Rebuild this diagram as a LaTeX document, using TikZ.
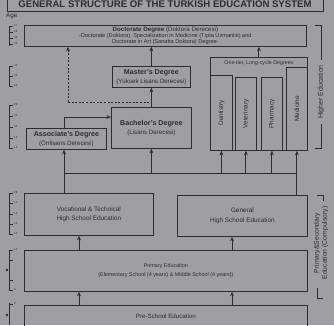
\documentclass[tikz,border=0pt]{standalone}
\usepackage{fontspec}
\setmainfont{Liberation Sans}
\usetikzlibrary{arrows.meta}
\definecolor{bg}{RGB}{158,158,163}
\definecolor{ink}{RGB}{44,44,50}
\newcommand\fsz[2]{\fontsize{#1}{#2}\selectfont}
\begin{document}
\begin{tikzpicture}[x=1pt,y=-1pt,
  box/.style={draw=ink, line width=0.8pt, rectangle, inner sep=0pt, align=center, text=ink,
    font=\fsz{6}{8}, anchor=north west},
  degbox/.style={box, font=\fsz{6.2}{8.6}},
  vtext/.style={text=ink, font=\fsz{6.4}{7}, rotate=90, inner sep=0pt, align=center},
  arr/.style={draw=ink, line width=0.9pt, -{Stealth[length=4.5pt,width=3.8pt]}},
  ln/.style={draw=ink, line width=0.9pt},
  dsh/.style={dash pattern=on 2pt off 1.6pt},
  agelbl/.style={text=ink, font=\fsz{2.8}{3}, inner sep=0pt, anchor=west}]
\fill[bg] (0,0) rectangle (334,325);
\useasboundingbox (0,0) rectangle (334,325);

% title
\draw[ln, line width=1pt] (7,-3) -- (7,11) -- (323,11) -- (323,-3);
\node[text=ink, font=\bfseries\fsz{9.6}{10}, inner sep=0pt, anchor=base] (title) at (165,7.6)
  {GENERAL STRUCTURE OF THE TURKISH EDUCATION SYSTEM};
\node[text=ink, font=\fsz{6.3}{7}, anchor=west, inner sep=0pt] (age) at (6,16) {Age};

% age scales
\foreach \a/\b in {26/46, 66/87, 105/148, 193/235, 250/290, 303/325}
  \draw[ln, line width=1pt] (9,\a) -- (9,\b);
\foreach \y/\t in {26/27,32/26,38/25,44/24, 66/24,76/23,86/22,
  105/22,116/21,127/20,138/19,148/18, 193/18,203/17,214/16,224/15,234/14,
  250/14,260/{},280/{},290/6, 304/6}{
  \draw[ln] (9,\y) -- (13,\y);
  \node[agelbl] at (14,\y) {\t};
}
\fill[ink] (7,270) circle (1.3);
\fill[ink] (7,315) circle (1.3);

% boxes
\node[box, font=\fsz{5.6}{6.1}, minimum width=282, minimum height=21] (doc) at (24,25)
  {{\fsz{6.2}{6.1}\textbf{Doctorate Degree} (Doktora Derecesi)}\\
   -Doctorate (Doktora), Specialization in Medicine (Tıpta Uzmanlık) and\\
   Doctorate in Art (Sanatta Doktora) Degree-};
\node[degbox, minimum width=78, minimum height=21] (mast) at (112,66)
  {{\fsz{7.1}{8.6}\textbf{Master's Degree}}\\(Yüksek Lisans Derecesi)};
\node[degbox, minimum width=80, minimum height=41] (bach) at (111,107)
  {{\fsz{7.1}{8.6}\textbf{Bachelor's Degree}}\\(Lisans Derecesi)};
\node[degbox, minimum width=80, minimum height=21] (assoc) at (26,128)
  {{\fsz{7.1}{8.6}\textbf{Associate's Degree}}\\(Önlisans Derecesi)};

\node[box, minimum width=97, minimum height=93,
  label={[text=ink, font=\fsz{5.3}{6}, anchor=north, inner sep=0pt, yshift=-3pt]north:One-tier, Long-cycle Degrees}] (ot) at (210,57) {};
\node[box, minimum width=22, minimum height=75] (dent) at (210,75) {};
\node[box, minimum width=21, minimum height=73] (vet) at (235,77) {};
\node[box, minimum width=21, minimum height=73] (pharm) at (261,77) {};
\node[box, minimum width=21, minimum height=83] (med) at (286,67) {};
\node[vtext] (tdent) at (dent.center) {Dentistry};
\node[vtext] (tvet) at (vet.center) {Veterinary};
\node[vtext] (tpharm) at (pharm.center) {Pharmacy};
\node[vtext] (tmed) at (med.center) {Medicine};

\node[box, font=\fsz{6.4}{9.5}, minimum width=129, minimum height=42] (voc) at (24,193)
  {Vocational \& Technical\\High School Education};
\node[box, font=\fsz{6.4}{9.5}, minimum width=130, minimum height=41] (gen) at (177,195)
  {General\\High School Education};
\node[box, font=\fsz{5.4}{9}, minimum width=283, minimum height=41] (prim) at (24,250)
  {Primary Education\\(Elementary School (4 years) \& Middle School (4 years))};
\node[box, font=\fsz{6.2}{7}, minimum width=283, minimum height=22] (pre) at (24,305)
  {Pre-School Education};

% right brackets
\draw[ln] (315,25) -- (321,25) -- (321,60);
\draw[ln] (321,124) -- (321,148) -- (315,148);
\node[vtext, font=\fsz{7}{8}] (hed) at (321,92) {Higher Education};
\draw[ln] (317,195) -- (323,195) -- (323,201);
\draw[ln] (317,288) -- (317,298) -- (323,298);
\node[vtext, font=\fsz{6.8}{8}] (comp) at (321,243)
  {Primary\&Secondary\\Education (Compulsory)};

% connectors
\coordinate (hj) at (64,173);
\coordinate (ab) at (64,117);
\coordinate (dj) at (68,102);
\coordinate (p1) at (79,0);
\coordinate (p2) at (232,0);

\draw[arr] (hj |- voc.north) -- (hj |- assoc.south);
\draw[ln] (hj) -- (hj -| med.south);
\draw[ln] (gen.north -| med.south) -- (hj -| med.south);
\draw[arr] (bach.south |- hj) -- (bach.south);
\draw[arr] (dent.south |- hj) -- (dent.south);
\draw[arr] (vet.south |- hj) -- (vet.south);
\draw[arr] (pharm.south |- hj) -- (pharm.south);
\draw[arr] (med.south |- hj) -- (med.south);

\draw[arr] (hj |- assoc.north) -- (ab) -- (ab -| bach.west);
\draw[ln, dsh] (dj) -- (dj -| bach.north);
\draw[arr, dsh] (dj) -- (dj |- doc.south);
\draw[arr] (bach.north) -- (mast.south);
\draw[arr] (mast.north) -- (mast.north |- doc.south);
\draw[arr] (ot.north) -- (ot.north |- doc.south);

\draw[arr] (p1 |- prim.north) -- (p1 |- voc.south);
\draw[arr] (p2 |- prim.north) -- (p2 |- gen.south);
\draw[arr] (p1 |- pre.north) -- (p1 |- prim.south);
\draw[arr] (p2 |- pre.north) -- (p2 |- prim.south);
\end{tikzpicture}
\end{document}
